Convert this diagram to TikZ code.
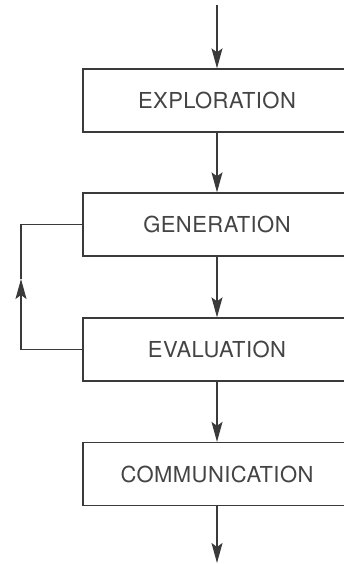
\documentclass[tikz,border=0pt]{standalone}
\usepackage{fontspec}
\setsansfont{TeX Gyre Heros}[LetterSpace=2]
\usetikzlibrary{arrows.meta,calc}
\definecolor{ink}{HTML}{3A3A3A}
\definecolor{txt}{HTML}{444444}
\tikzset{
  stagebox/.style={draw=ink, line width=1.3pt, rectangle, minimum width=268pt,
    minimum height=63pt, inner sep=0pt, font=\sffamily\fontsize{22}{23}\selectfont,
    text=txt},
  flow/.style={draw=ink, line width=1.3pt,
    -{Stealth[length=20pt, width=11pt, inset=4pt]}},
  plain/.style={draw=ink, line width=1.3pt}
}
\begin{document}
\begin{tikzpicture}[x=1pt,y=1pt]
  \useasboundingbox (0,0) rectangle (344,564);
  \clip (0,0) rectangle (344,564);
  \fill[white] (0,0) rectangle (344,564);

  \node[stagebox] (expl) at (217,463.5) {EXPLORATION};
  \node[stagebox] (gen)  at (217,339.5) {GENERATION};
  \node[stagebox] (eval) at (217,214.5) {EVALUATION};
  \node[stagebox] (comm) at (217,90)    {COMMUNICATION};

  \coordinate (in)  at (217,559);
  \coordinate (out) at (217,1);
  \coordinate (loopmid) at (21,285);

  \draw[flow] (in) -- (expl.north);
  \draw[flow] (expl.south) -- (gen.north);
  \draw[flow] (gen.south) -- (eval.north);
  \draw[flow] (eval.south) -- (comm.north);
  \draw[flow] (comm.south) -- (out);

  % feedback loop from evaluation back to generation
  \draw[flow] (eval.west) -| (loopmid);
  \draw[plain] (gen.west) -| (loopmid);
\end{tikzpicture}
\end{document}
